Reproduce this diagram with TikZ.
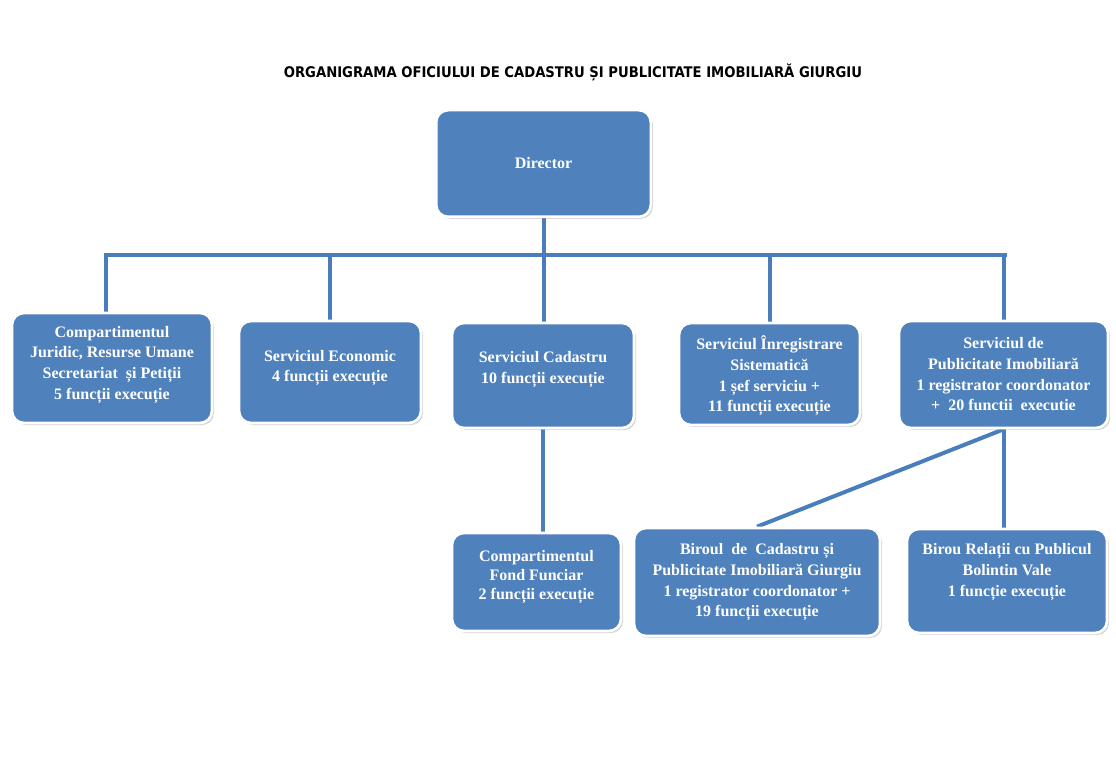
\documentclass[tikz,border=0pt]{standalone}
\usepackage{fontspec}
\setmainfont{Liberation Serif}
\newfontfamily\titlefont{DejaVu Sans Condensed}
\usetikzlibrary{positioning,shadows,backgrounds}
\definecolor{boxblue}{RGB}{79,129,189}
\definecolor{lineblue}{RGB}{74,126,187}
\tikzset{
    %Define style for boxes
    punkt/.style={
           rectangle,
           rounded corners=9pt,
           fill=boxblue,
           draw=white, line width=2pt,
           text=white,
           font=\bfseries\fontsize{12}{15.5}\selectfont,
           align=center,
           drop shadow={shadow xshift=1.5pt, shadow yshift=-1.5pt, opacity=0.35}},
    % Define line style
    pil/.style={
           draw=lineblue,
           line width=3pt}
}

\begin{document}
\begin{tikzpicture}[x=0.75pt,y=-0.75pt]
\useasboundingbox (0,0) rectangle (1116,784);
 %title
\node[font=\titlefont\bfseries\fontsize{11}{13}\selectfont] (titlu) at (573,72)
    {ORGANIGRAMA OFICIULUI DE CADASTRU ȘI PUBLICITATE IMOBILIARĂ GIURGIU};

 %nodes
\node[punkt, minimum width=161pt, minimum height=80pt] (dir) at (543.5,163.5) {Director};

\node[punkt, minimum width=150pt, minimum height=82.5pt, text depth=8pt] (jur) at (112,368)
    {Compartimentul\\Juridic, Resurse Umane\\Secretariat \ și Petiții\\5 funcții execuție};
\node[punkt, minimum width=136.5pt, minimum height=76.5pt, text depth=9pt] (eco) at (330,372)
    {Serviciul Economic\\4 funcții execuție};
\node[punkt, minimum width=136.5pt, minimum height=78.75pt, text depth=12pt] (cad) at (543,375.5)
    {Serviciul Cadastru\\10 funcții execuție};
\node[punkt, minimum width=135.75pt, minimum height=76.5pt, text depth=0pt] (inr) at (769.5,374)
    {Serviciul Înregistrare\\Sistematică\\1 șef serviciu +\\11 funcții execuție};
\node[punkt, minimum width=156.75pt, minimum height=80.25pt] (pub) at (1003.5,374.5)
    {Serviciul de\\Publicitate Imobiliară\\1 registrator coordonator\\+ \ 20 functii \ executie};

\node[punkt, minimum width=126.75pt, minimum height=73.5pt, text depth=10.5pt,
      font=\bfseries\fontsize{12}{14.5}\selectfont] (ff) at (536.5,582)
    {Compartimentul\\Fond Funciar\\2 funcții execuție};
\node[punkt, minimum width=184.5pt, minimum height=81pt, text depth=2.5pt] (bcp) at (757,582)
    {Biroul \ de \ Cadastru și\\Publicitate Imobiliară Giurgiu\\1 registrator coordonator +\\19 funcții execuție};
\node[punkt, minimum width=150pt, minimum height=78pt, text depth=16.5pt] (brp) at (1007,581)
    {Birou Relații cu Publicul\\Bolintin Vale\\1 funcție execuție};

 %lines
\begin{scope}[on background layer]
\coordinate (busL) at (106,255);
\coordinate (busR) at (1007,255);
\draw[pil] (busL |- jur.north) -- (busL) -- (busR);
\draw[pil] (dir.south) -- (dir.south |- cad.north);
\draw[pil] (eco.north |- busL) -- (eco.north);
\draw[pil] (inr.north |- busL) -- (inr.north);
\draw[pil] (pub.north |- busL) -- (pub.north);
\draw[pil] (cad.south) -- (cad.south |- ff.north);
\draw[pil] (pub.south) -- (pub.south |- brp.north);
\draw[pil] (pub.south) -- (bcp.north);
\end{scope}

\end{tikzpicture}
\end{document}
